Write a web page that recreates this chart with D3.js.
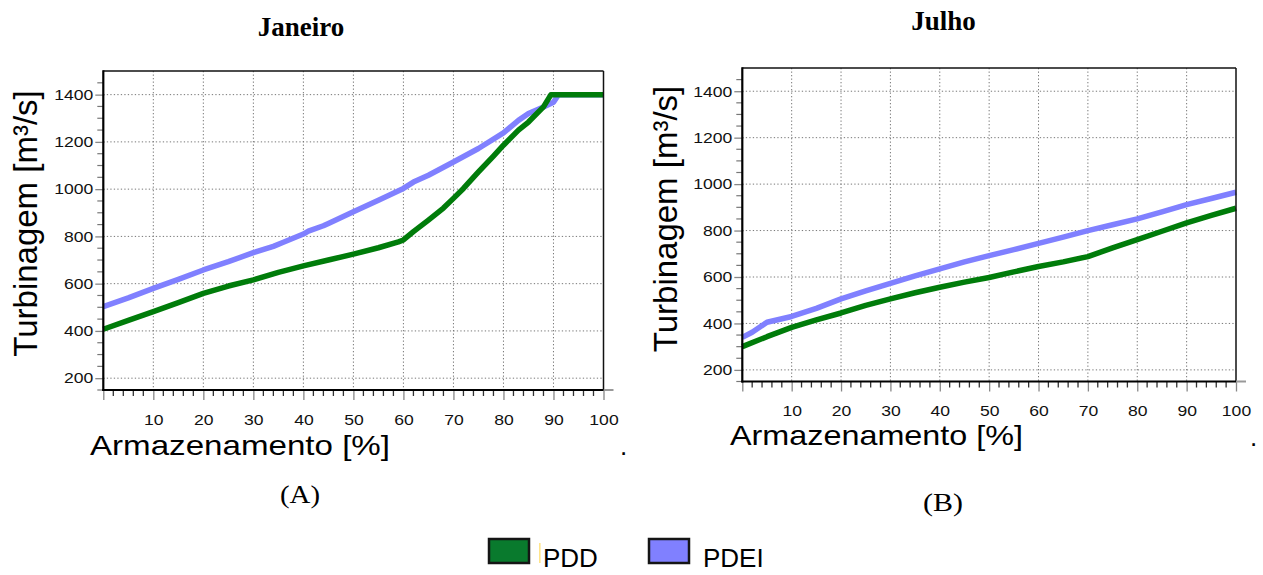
<!DOCTYPE html>
<html>
<head>
<meta charset="utf-8">
<script src="https://cdn.jsdelivr.net/npm/d3@7"></script>
<style>
  html, body { margin: 0; padding: 0; background: #fff; }
  svg { display: block; }
</style>
</head>
<body>
<svg id="fig" width="1263" height="575"></svg>
<script>
// Storage (%) vs. turbined outflow (m³/s) for two policies, January and July.
const janStorage_PDD  = [0, 5, 10, 15, 20, 25, 30, 35, 40, 45, 50, 55, 59, 60, 62, 65, 68, 70, 72, 75, 78, 80, 83, 85, 88, 89.5, 100];
const janFlow_PDD     = [407, 445, 482, 520, 559, 590, 616, 648, 675, 700, 725, 752, 777, 785, 820, 869, 920, 961, 1003, 1073, 1140, 1186, 1250, 1284, 1348, 1400, 1400];
const janStorage_PDEI = [0, 5, 10, 15, 20, 25, 30, 34, 36, 40, 41, 44, 45, 50, 55, 60, 62, 65, 70, 75, 80, 83, 85, 88, 90, 91, 100];
const janFlow_PDEI    = [503, 540, 580, 618, 658, 693, 731, 758, 775, 810, 822, 845, 855, 904, 953, 1003, 1030, 1059, 1115, 1172, 1238, 1291, 1320, 1348, 1368, 1400, 1400];

const julStorage_PDD  = [0, 5, 10, 15, 20, 25, 30, 35, 40, 45, 50, 55, 60, 65, 70, 75, 80, 85, 90, 95, 100];
const julFlow_PDD     = [300, 343, 383, 415, 445, 478, 506, 532, 556, 578, 598, 622, 645, 665, 688, 725, 761, 797, 833, 865, 896];
const julStorage_PDEI = [0, 2, 5, 10, 15, 20, 25, 30, 35, 40, 45, 50, 55, 60, 65, 70, 75, 80, 85, 90, 95, 100];
const julFlow_PDEI    = [340, 362, 405, 430, 465, 506, 540, 573, 605, 635, 665, 692, 718, 745, 772, 800, 825, 850, 880, 912, 938, 965];

const xTickValues = [10, 20, 30, 40, 50, 60, 70, 80, 90, 100];
const yTickValues = [200, 400, 600, 800, 1000, 1200, 1400];
const seriesNames = ["PDD", "PDEI"];
const panelTitles = ["Janeiro", "Julho"];
const panelTags   = ["(A)", "(B)"];

const COL_PDD = "#007c0a";
const COL_PDEI = "#8080ff";
const SANS = "'Liberation Sans', Arial, Helvetica, sans-serif";
const SERIF = "'Liberation Serif', 'Times New Roman', serif";

const svg = d3.select("#fig");

function stretch(sel, k) {
  sel.each(function () {
    const w = this.getComputedTextLength();
    d3.select(this).attr("textLength", w * k).attr("lengthAdjust", "spacingAndGlyphs");
  });
}

function panel(cfg) {
  const x = d3.scaleLinear().domain([0, 100]).range([cfg.left, cfg.right]);
  const y = d3.scaleLinear().domain([150, 1500]).range([cfg.bottom, cfg.top]);
  const g = svg.append("g");

  // dotted grid
  g.append("g").selectAll("line").data(xTickValues.filter(v => v < 100)).join("line")
    .attr("x1", d => x(d)).attr("x2", d => x(d))
    .attr("y1", cfg.top).attr("y2", cfg.bottom)
    .attr("stroke", "#777").attr("stroke-width", 1).attr("stroke-dasharray", "1.3,2.2");
  g.append("g").selectAll("line").data(yTickValues).join("line")
    .attr("x1", cfg.left).attr("x2", cfg.right)
    .attr("y1", d => y(d)).attr("y2", d => y(d))
    .attr("stroke", "#777").attr("stroke-width", 1).attr("stroke-dasharray", "1.3,2.2");

  // series
  const line = d3.line().x(d => x(d[0])).y(d => y(d[1])).curve(d3.curveLinear);
  const pdei = cfg.sPDEI.map((s, i) => [s, cfg.fPDEI[i]]);
  const pdd  = cfg.sPDD.map((s, i) => [s, cfg.fPDD[i]]);
  g.append("path").datum(pdei).attr("d", line)
    .attr("fill", "none").attr("stroke", COL_PDEI).attr("stroke-width", 5.5)
    .attr("stroke-linejoin", "round");
  g.append("path").datum(pdd).attr("d", line)
    .attr("fill", "none").attr("stroke", COL_PDD).attr("stroke-width", 5.5)
    .attr("stroke-linejoin", "round");

  // minor ticks
  const xMinor = d3.range(0, 100, 2).filter(v => v % 10 !== 0);
  g.append("g").selectAll("line").data(xMinor).join("line")
    .attr("x1", d => x(d)).attr("x2", d => x(d))
    .attr("y1", cfg.bottom).attr("y2", cfg.bottom + 6)
    .attr("stroke", "#333").attr("stroke-width", 1.3);
  const yMinor = d3.range(150, 1500, 50).filter(v => v % 200 !== 0);
  g.append("g").selectAll("line").data(yMinor).join("line")
    .attr("x1", cfg.left - 6).attr("x2", cfg.left)
    .attr("y1", d => y(d)).attr("y2", d => y(d))
    .attr("stroke", "#777").attr("stroke-width", 1.2);

  // major ticks via d3 axes
  const xAxis = g.append("g").attr("transform", `translate(0,${cfg.bottom})`)
    .call(d3.axisBottom(x).tickValues([0].concat(xTickValues)).tickSize(10).tickPadding(14)
      .tickFormat(d => d === 0 ? "" : String(d)));
  xAxis.select(".domain").remove();
  xAxis.selectAll(".tick line").attr("stroke", "#888").attr("stroke-width", 1.3);
  xAxis.selectAll(".tick text").attr("font-family", SANS).attr("font-size", 15)
    .attr("fill", "#111").call(stretch, 1.17);

  const yAxis = g.append("g").attr("transform", `translate(${cfg.left},0)`)
    .call(d3.axisLeft(y).tickValues(yTickValues).tickSize(8).tickPadding(2)
      .tickFormat(d => String(d)));
  yAxis.select(".domain").remove();
  yAxis.selectAll(".tick line").attr("stroke", "#888").attr("stroke-width", 1.3).attr("x2", -8).attr("x1", 1);
  yAxis.selectAll(".tick text").attr("font-family", SANS).attr("font-size", 15)
    .attr("fill", "#111").call(stretch, 1.17);

  // frame
  g.append("line").attr("x1", cfg.left).attr("x2", cfg.right)
    .attr("y1", cfg.top).attr("y2", cfg.top).attr("stroke", "#111").attr("stroke-width", 1.5);
  g.append("line").attr("x1", cfg.right).attr("x2", cfg.right)
    .attr("y1", cfg.top).attr("y2", cfg.bottom).attr("stroke", "#111").attr("stroke-width", 1.5);
  g.append("line").attr("x1", cfg.right).attr("x2", cfg.right + 10)
    .attr("y1", cfg.bottom).attr("y2", cfg.bottom).attr("stroke", "#999").attr("stroke-width", 2);
  g.append("line").attr("x1", cfg.left).attr("x2", cfg.left)
    .attr("y1", cfg.top - 0.75).attr("y2", cfg.bottom + 1).attr("stroke", "#000").attr("stroke-width", 2.2);
  g.append("line").attr("x1", cfg.left - 1).attr("x2", cfg.right)
    .attr("y1", cfg.bottom).attr("y2", cfg.bottom).attr("stroke", "#000").attr("stroke-width", 2.2);

  // axis titles
  g.append("text").attr("x", cfg.xTitleX).attr("y", cfg.xTitleY)
    .attr("font-family", SANS).attr("font-size", 28).attr("fill", "#000")
    .attr("textLength", cfg.xTitleW).attr("lengthAdjust", "spacingAndGlyphs")
    .text("Armazenamento [%]");
  g.append("text")
    .attr("transform", `translate(${cfg.yTitleX},${cfg.yTitleY}) rotate(-90)`)
    .attr("text-anchor", "middle")
    .attr("font-family", SANS).attr("font-size", 33).attr("fill", "#000")
    .text("Turbinagem [m³/s]");

  // panel title and tag
  g.append("text").attr("x", cfg.titleX).attr("y", cfg.titleY).attr("text-anchor", "middle")
    .attr("font-family", SERIF).attr("font-weight", "bold").attr("font-size", 27)
    .text(cfg.title);
  g.append("text").attr("x", cfg.tagX).attr("y", cfg.tagY).attr("text-anchor", "middle")
    .attr("font-family", SERIF).attr("font-weight", "normal").attr("font-size", 26)
    .attr("textLength", 40).attr("lengthAdjust", "spacingAndGlyphs")
    .text(cfg.tag);
  g.append("text").attr("x", cfg.dotX).attr("y", cfg.dotY)
    .attr("font-family", SANS).attr("font-size", 26).text(".");
}

panel({
  left: 103.3, right: 603.5, top: 71, bottom: 390,
  sPDD: janStorage_PDD, fPDD: janFlow_PDD, sPDEI: janStorage_PDEI, fPDEI: janFlow_PDEI,
  xTitleX: 90, xTitleY: 455, xTitleW: 300,
  yTitleX: 37, yTitleY: 223.5,
  title: panelTitles[0], titleX: 301, titleY: 36,
  tag: panelTags[0], tagX: 300, tagY: 503,
  dotX: 620, dotY: 455
});
panel({
  left: 742.3, right: 1236, top: 68, bottom: 381.5,
  sPDD: julStorage_PDD, fPDD: julFlow_PDD, sPDEI: julStorage_PDEI, fPDEI: julFlow_PDEI,
  xTitleX: 730, xTitleY: 445, xTitleW: 293,
  yTitleX: 677, yTitleY: 219,
  title: panelTitles[1], titleX: 943.5, titleY: 30,
  tag: panelTags[1], tagX: 943, tagY: 511,
  dotX: 1250, dotY: 446
});

// legend
const legend = svg.append("g");
const legendItems = [
  { name: seriesNames[0], fill: "#097a2d", rx: 489, tx: 543 },
  { name: seriesNames[1], fill: "#8080ff", rx: 649, tx: 703 }
];
legend.selectAll("rect.key").data(legendItems).join("rect").attr("class", "key")
  .attr("x", d => d.rx).attr("y", 539).attr("width", 40).attr("height", 24)
  .attr("fill", d => d.fill).attr("stroke", "#151515").attr("stroke-width", 2.5);
legend.append("rect").attr("x", 539).attr("y", 543).attr("width", 1.6).attr("height", 20)
  .attr("fill", "#ffe48a");
legend.selectAll("text").data(legendItems).join("text")
  .attr("x", d => d.tx).attr("y", 567)
  .attr("font-family", SANS).attr("font-size", 26).attr("fill", "#000")
  .text(d => d.name);
</script>
</body>
</html>
